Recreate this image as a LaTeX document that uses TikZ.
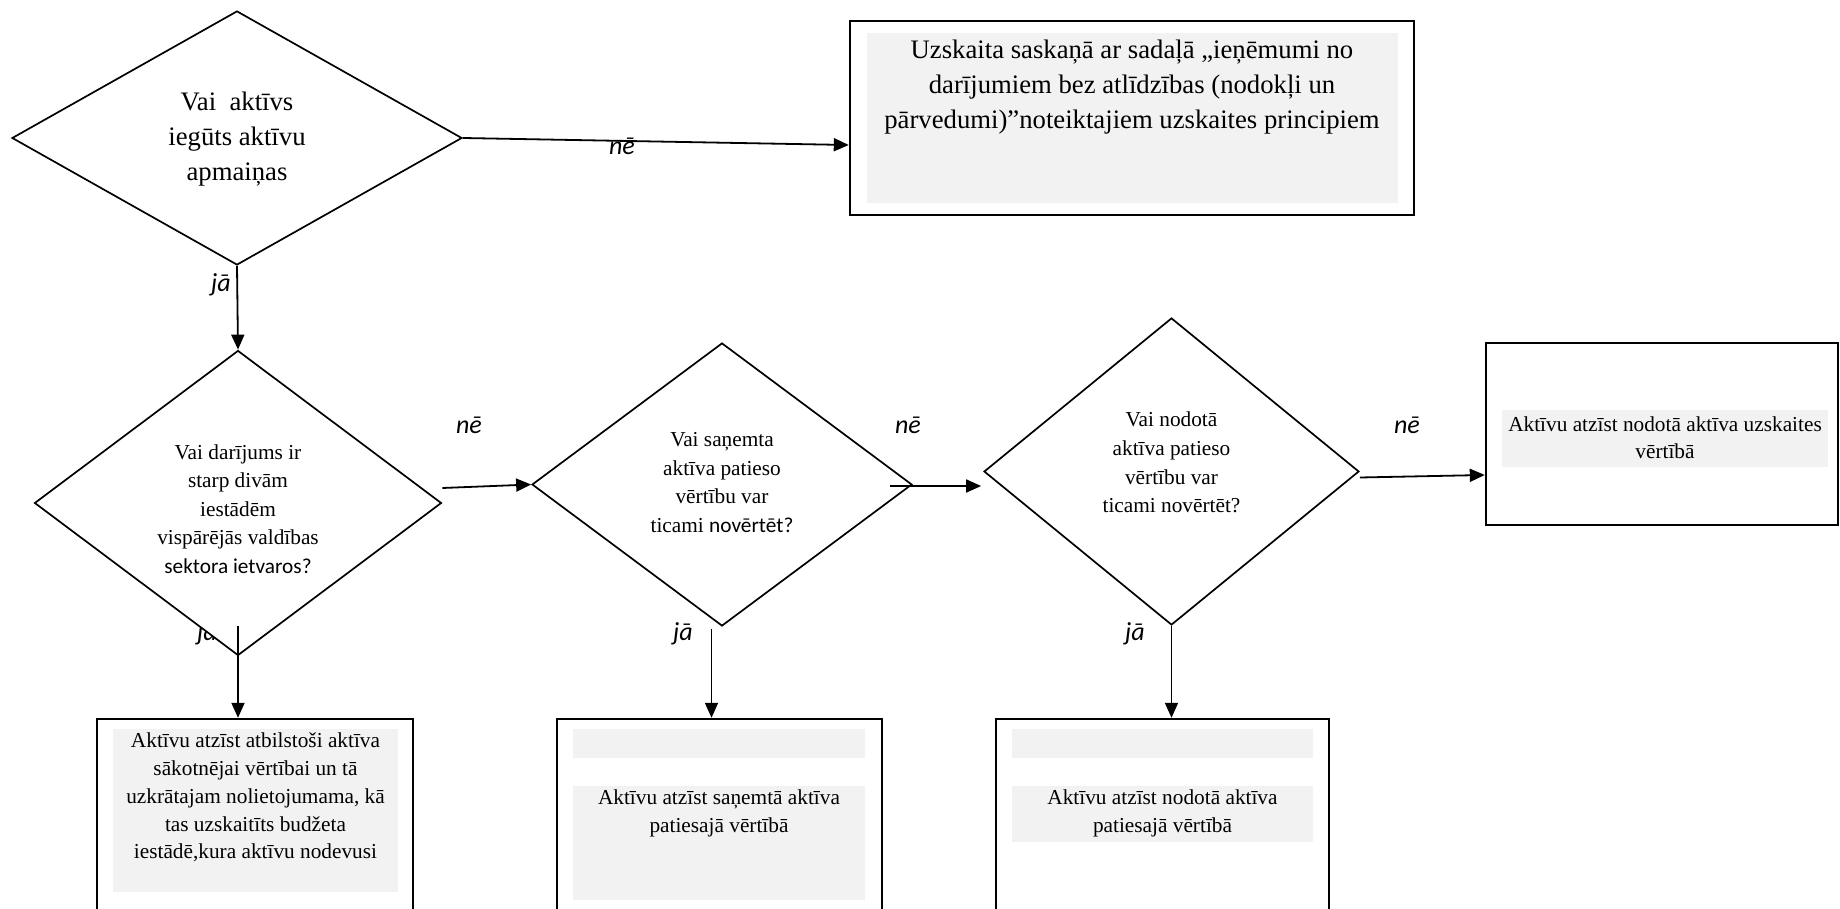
\documentclass[tikz,border=0pt]{standalone}
\usepackage{fontspec}
\setmainfont{Liberation Serif}
\newfontfamily\sansfam{Carlito}
\usetikzlibrary{shapes.geometric,arrows.meta}
\definecolor{panelgrey}{HTML}{F2F2F2}
\begin{document}
\begin{tikzpicture}[x=1pt,y=-1pt,
  decision/.style={diamond,draw,fill=white,line width=1.7pt,inner sep=0pt},
  qtext/.style={align=center,inner sep=0pt,font=\fontsize{21.3}{28.6}\selectfont},
  outerbox/.style={rectangle,draw,line width=2.4pt,inner sep=0pt},
  panel/.style={rectangle,fill=panelgrey,inner sep=0pt},
  bodytext/.style={align=center,inner sep=0pt,font=\fontsize{21.3}{27.8}\selectfont},
  branch/.style={font=\sansfam\itshape\fontsize{26}{30}\selectfont,inner sep=0pt},
  flow/.style={line width=1.8pt,-{Triangle[length=15pt,width=13pt]}},
]
\useasboundingbox (0,0) rectangle (1840,909);
\clip (0,0) rectangle (1840,909);

% ---- result boxes ----
\node[outerbox,minimum width=564pt,minimum height=194pt] (tb) at (1132,118) {};
\node[panel,minimum width=531pt,minimum height=170pt] (tbp) at (1132.5,118) {};
\node[bodytext,font=\fontsize{26.7}{35}\selectfont] (tbt) at (1132,87.5)
  {Uzskaita saskaņā ar sadaļā „ieņēmumi no\\darījumiem bez atlīdzības (nodokļi un\\pārvedumi)”noteiktajiem uzskaites principiem};

\node[outerbox,minimum width=352pt,minimum height=182pt] (rb) at (1662,434) {};
\node[panel,minimum width=326pt,minimum height=57pt] (rbp) at (1665,438.5) {};
\node[bodytext,font=\fontsize{21.3}{27.5}\selectfont] (rbt) at (1665,437.5)
  {Aktīvu atzīst nodotā aktīva uzskaites\\vērtībā};

\node[outerbox,minimum width=316pt,minimum height=211pt] (bA) at (255,824.5) {};
\node[panel,minimum width=285pt,minimum height=163pt] (bAp) at (255.5,810.5) {};
\node[bodytext] (bAt) at (255.5,797.5)
  {Aktīvu atzīst atbilstoši aktīva\\sākotnējai vērtībai un tā\\uzkrātajam nolietojumama, kā\\tas uzskaitīts budžeta\\iestādē,kura aktīvu nodevusi};

\node[outerbox,minimum width=325pt,minimum height=211pt] (bB) at (719.5,824.5) {};
\node[panel,minimum width=292pt,minimum height=29pt] (bBp1) at (719,743.5) {};
\node[panel,minimum width=292pt,minimum height=114pt] (bBp2) at (719,843) {};
\node[bodytext] (bBt) at (719,813) {Aktīvu atzīst saņemtā aktīva\\patiesajā vērtībā};

\node[outerbox,minimum width=333pt,minimum height=211pt] (bC) at (1162.5,824.5) {};
\node[panel,minimum width=301pt,minimum height=29pt] (bCp1) at (1162.5,743.5) {};
\node[panel,minimum width=301pt,minimum height=56pt] (bCp2) at (1162.5,814) {};
\node[bodytext] (bCt) at (1162.5,813) {Aktīvu atzīst nodotā aktīva\\patiesajā vērtībā};

% label partly covered by the second decision
\node[branch] (j2) at (207,634) {jā};

% ---- decisions ----
\node[decision,minimum width=450pt,minimum height=254pt] (d1) at (237,138) {};
\node[qtext,font=\fontsize{26.7}{34.8}\selectfont] (d1t) at ([yshift=-1pt]d1.center)
  {Vai\ \ aktīvs\\iegūts aktīvu\\apmaiņas};

\node[decision,minimum width=407pt,minimum height=305pt] (d2) at (238,503) {};
\node[qtext] (d2t) at ([yshift=-6pt]d2.center)
  {Vai darījums ir\\starp divām\\iestādēm\\vispārējās valdības\\{\sansfam sektora ietvaros?}};

\node[decision,minimum width=380pt,minimum height=283pt] (d3) at (722,484.5) {};
\node[qtext] (d3t) at ([yshift=2pt]d3.center)
  {Vai saņemta\\aktīva patieso\\vērtību var\\ticami {\sansfam novērtēt?}};

\node[decision,minimum width=375pt,minimum height=307pt] (d4) at (1171.5,471.5) {};
\node[qtext] (d4t) at ([yshift=9pt]d4.center)
  {Vai nodotā\\aktīva patieso\\vērtību var\\ticami novērtēt?};

% ---- connectors ----
\draw[flow] (d1.east) -- ([yshift=-27pt]tb.west);
\draw[flow] (d1.south) -- (d2.north);
\draw[flow] ([yshift=15pt]d2.east) -- (d3.west);
\draw[flow] ([xshift=-23pt,yshift=-1.5pt]d3.east) -- ([xshift=-2pt,yshift=-14.5pt]d4.west);
\draw[flow] ([yshift=-6pt]d4.east) -- ([yshift=-41pt]rb.west);

\coordinate (s2) at ([yshift=-123pt]d2.center);
\draw[flow] (s2) -- (s2 |- bA.north);
\coordinate (s3) at ([xshift=-10.5pt,yshift=-2pt]d3.south);
\draw[flow] (s3) -- (s3 |- bB.north);
\draw[flow] (d4.south) -- (d4.south |- bC.north);

% ---- branch labels ----
\node[branch] (n1) at (622,146) {nē};
\node[branch] (j1) at (221,285) {jā};
\node[branch] (n2) at (469,425) {nē};
\node[branch] (n3) at (908,425) {nē};
\node[branch] (n4) at (1407,425) {nē};
\node[branch] (j3) at (683,634) {jā};
\node[branch] (j4) at (1135,634) {jā};
\end{tikzpicture}
\end{document}
